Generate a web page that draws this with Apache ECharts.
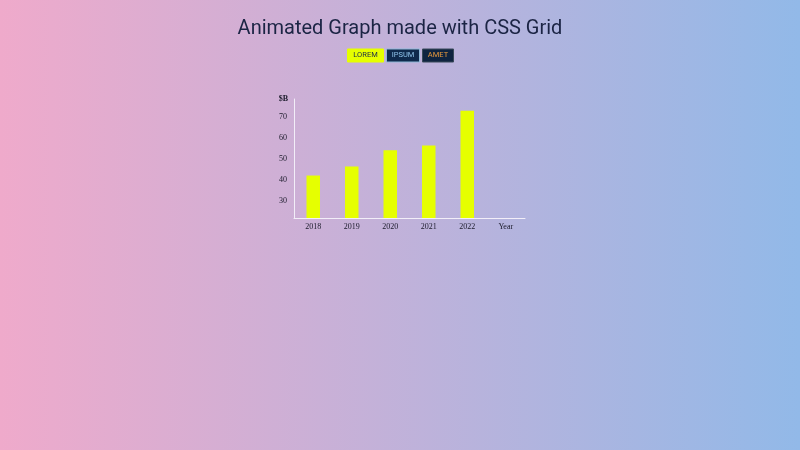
<!DOCTYPE html>
<html>
<head>
<meta charset="utf-8">
<script src="https://cdn.jsdelivr.net/npm/echarts@6/dist/echarts.min.js"></script>
<style>
html,body{margin:0;padding:0;width:800px;height:450px;overflow:hidden;}
#c{width:800px;height:450px;}
</style>
</head>
<body>
<div id="c"></div>
<script>
const title = 'Animated Graph made with CSS Grid';
const categories = ['2018', '2019', '2020', '2021', '2022', 'Year'];
const values = [42, 46.3, 54, 56.3, 72.8, null];
const yTicks = [30, 40, 50, 60, 70];
const buttons = ['LOREM', 'IPSUM', 'AMET'];

const chart = echarts.init(document.getElementById('c'), null, {renderer: 'canvas'});
const btnStyles = [
  {x: 347, w: 36, fill: '#e6ff00', stroke: '#e6ff00', color: '#1a2a4a'},
  {x: 386, w: 33, fill: '#0f2a4c', stroke: '#8fb8d8', color: '#8fc3ea'},
  {x: 422, w: 31, fill: '#0f2440', stroke: '#3a4a5a', color: '#e89a3c'}
];
chart.setOption({
  backgroundColor: {
    type: 'linear', x: 0, y: 0, x2: 1, y2: 0,
    colorStops: [{offset: 0, color: '#efaacb'}, {offset: 1, color: '#92b9e8'}]
  },
  animation: false,
  title: {
    text: title, left: 'center', top: 14,
    textStyle: {fontFamily: 'Roboto', fontWeight: 'normal', fontSize: 20, color: '#1b2444'}
  },
  graphic: buttons.map((b, i) => ({
    type: 'group', left: btnStyles[i].x, top: 48.5,
    children: [
      {type: 'rect', shape: {x: 0, y: 0, width: btnStyles[i].w, height: 13},
       style: {fill: btnStyles[i].fill, stroke: btnStyles[i].stroke, lineWidth: 1}},
      {type: 'text', x: btnStyles[i].w / 2, y: 6.5,
       style: {text: b, fill: btnStyles[i].color, font: '7.5px Roboto', align: 'center', verticalAlign: 'middle'}}
    ]
  })),
  grid: {left: 294, right: 275, top: 99, bottom: 232, containLabel: false},
  xAxis: {
    type: 'category', data: categories,
    axisLine: {show: true, lineStyle: {color: '#f2eef8', width: 1}},
    axisTick: {show: false},
    axisLabel: {color: '#1a1a2a', fontFamily: 'Liberation Serif', fontSize: 8, margin: 5}
  },
  yAxis: {
    type: 'value', min: 21.8, max: 78.4,
    name: '$B', nameLocation: 'end', nameGap: 0,
    nameTextStyle: {color: '#1a1a2a', fontFamily: 'Liberation Serif', fontSize: 8, fontWeight: 'bold', align: 'right', padding: [0, 6, 4, 0], verticalAlign: 'middle'},
    axisLine: {show: true, lineStyle: {color: '#f2eef8', width: 1}},
    axisTick: {show: false},
    splitLine: {show: false},
    axisLabel: {customValues: yTicks, color: '#1a1a2a', fontFamily: 'Liberation Serif', fontSize: 8, margin: 7}
  },
  series: [{
    type: 'bar', data: values, barWidth: 13.5,
    itemStyle: {color: '#e6ff00'}
  }]
});
</script>
</body>
</html>
